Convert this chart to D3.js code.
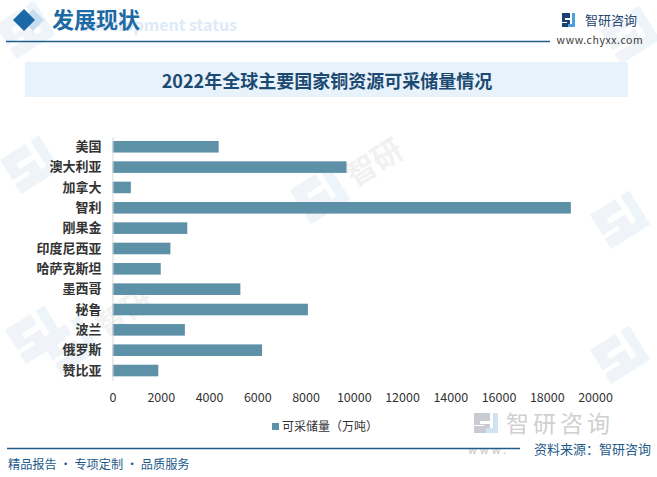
<!DOCTYPE html>
<html>
<head>
<meta charset="utf-8">
<script src="https://cdn.jsdelivr.net/npm/d3@7"></script>
<style>
  html, body { margin: 0; padding: 0; background: #fff; }
  svg { display: block; }
  text { font-family: "Noto Sans CJK SC", "Noto Sans", sans-serif; }
</style>
</head>
<body>
<svg id="chart" width="657" height="477"></svg>
<script>
// ---- data ----
const categories = ["美国", "澳大利亚", "加拿大", "智利", "刚果金", "印度尼西亚", "哈萨克斯坦", "墨西哥", "秘鲁", "波兰", "俄罗斯", "赞比亚"];
const reserves = [4400, 9700, 760, 19000, 3100, 2400, 2000, 5300, 8100, 3000, 6200, 1900];
const xTicks = [0, 2000, 4000, 6000, 8000, 10000, 12000, 14000, 16000, 18000, 20000];
const seriesName = "可采储量（万吨）";
const chartTitle = "2022年全球主要国家铜资源可采储量情况";
const headerTitle = "发展现状";
const headerGhost = "Development status";
const brandName = "智研咨询";
const brandUrl = "www.chyxx.com";
const footerLeft = "精品报告 · 专项定制 · 品质服务";
const footerRight = "资料来源：智研咨询";

const svg = d3.select("#chart");
const W = 657, H = 477;
svg.append("rect").attr("width", W).attr("height", H).attr("fill", "#fff");

// ---- faint watermarks (logo marks only, plus a couple of texts inside the plot) ----
const wm = svg.append("g").attr("class", "watermarks");
function mark(x, y, s) {
  const g = wm.append("g").attr("transform", `translate(${x},${y}) rotate(-32) scale(${s})`);
  g.append("path").attr("d", "M0,0 h30 v12 h-18 v6 h18 v22 h-30 v-12 h18 v-4 h-18 z").attr("fill", "#f0f3f7");
  g.append("path").attr("d", "M36,0 h10 v40 h-22 v-10 h12 z").attr("fill", "#edf5fb");
  return g;
}
mark(0, 160, 1);
mark(290, 190, 1);
mark(5, 330, 1);
mark(590, 215, 1);
mark(590, 350, 1);
mark(600, 30, 1);
mark(-5, 25, 1);
const wt1 = mark(290, 190, 1);
wt1.append("text").attr("x", 56).attr("y", 32).attr("font-size", 30).attr("fill", "#f1f1f1")
  .attr("font-weight", "bold").text("智研");
const wt2 = mark(40, 340, 1);
wt2.append("text").attr("x", 56).attr("y", 32).attr("font-size", 30).attr("fill", "#f2f2f2")
  .attr("font-weight", "bold").text("智研");

// ---- header ----
svg.append("path").attr("d", "M33,9 L44,20 L33,31 L22,20 Z").attr("fill", "#c7ddf0");
svg.append("path").attr("d", "M24,9 L35,20 L24,31 L13,20 Z").attr("fill", "#1a68a6");
svg.append("text").attr("x", 237).attr("y", 31).attr("text-anchor", "end")
  .attr("font-family", "Arial, 'Liberation Sans', sans-serif")
  .attr("font-weight", "bold").attr("font-size", 16).attr("fill", "#dcebf7").text(headerGhost);
svg.append("text").attr("x", 52).attr("y", 28).attr("font-size", 22).attr("font-weight", "bold")
  .attr("fill", "#1b69a5").text(headerTitle);
svg.append("line").attr("x1", 6).attr("x2", 550).attr("y1", 41.5).attr("y2", 41.5)
  .attr("stroke", "#1f5d8d").attr("stroke-width", 1.5);

// brand logo (top right)
const logo = svg.append("g").attr("transform", "translate(562,13)");
logo.append("path").attr("d", "M0,0 h8 v5 h-5 v2 h5 v7 h-8 v-4 h5 v-1 h-5 z").attr("fill", "#1c3f73");
logo.append("path").attr("d", "M10,0 h3 v14 h-7 v-3 h4 z").attr("fill", "#4aa0dc");
svg.append("text").attr("x", 585).attr("y", 25).attr("font-size", 13).attr("fill", "#24466f").text(brandName);
svg.append("text").attr("x", 600).attr("y", 44).attr("text-anchor", "middle")
  .attr("font-family", "'Liberation Serif', 'DejaVu Serif', serif").attr("font-size", 10.5)
  .attr("letter-spacing", 0.6).attr("fill", "#3a3a3a").text(brandUrl);

// ---- title box ----
svg.append("rect").attr("x", 25).attr("y", 62).attr("width", 603).attr("height", 35).attr("fill", "#e7f2fb");
svg.append("text").attr("x", 327).attr("y", 87.5).attr("text-anchor", "middle").attr("font-size", 18)
  .attr("font-weight", "bold").attr("fill", "#1d4a72").text(chartTitle);

// ---- scales ----
const x = d3.scaleLinear().domain([0, 20000]).range([112.5, 595]);
const y = d3.scaleBand().domain(categories).range([136.6, 380.7]).paddingInner(0.43).paddingOuter(0.215);

// bars
svg.append("g").selectAll("rect").data(categories).join("rect")
  .attr("x", x(0))
  .attr("y", d => y(d))
  .attr("width", (d, i) => x(reserves[i]) - x(0))
  .attr("height", y.bandwidth())
  .attr("fill", "#5d91a8");

// y axis
const yAxis = svg.append("g").attr("transform", `translate(${x(0)},0)`)
  .call(d3.axisLeft(y).tickSize(0).tickSizeOuter(0).tickPadding(11));
yAxis.select(".domain").attr("stroke", "#d9d9d9").attr("stroke-width", 1);
yAxis.selectAll("text").attr("font-size", 13).attr("font-weight", "bold").attr("fill", "#333")
  .attr("font-family", "'Noto Sans CJK SC', sans-serif");

// x axis
const xAxis = svg.append("g").attr("transform", "translate(0,381)")
  .call(d3.axisBottom(x).tickValues(xTicks).tickSize(0).tickPadding(12).tickFormat(d3.format("d")));
xAxis.select(".domain").remove();
xAxis.selectAll("text").attr("font-size", 12.5).attr("fill", "#333")
  .attr("font-family", "'Noto Sans CJK SC', sans-serif");

// legend
svg.append("rect").attr("x", 272).attr("y", 423).attr("width", 7).attr("height", 7).attr("fill", "#5d91a8");
svg.append("text").attr("x", 282).attr("y", 431).attr("font-size", 12).attr("fill", "#333").text(seriesName);

// ---- footer ----
const bl = svg.append("g").attr("transform", "translate(474,413)");
bl.append("path").attr("d", "M0,0 h16 v8 h-10 v3 h10 v9 h-16 v-7 h10 v-1 h-10 z").attr("fill", "#c8ccd2");
bl.append("path").attr("d", "M19,0 h5 v20 h-12 v-5 h7 z").attr("fill", "#cfe3f2");
svg.append("text").attr("x", 506).attr("y", 432).attr("font-size", 23).attr("fill", "#d0d0d0")
  .attr("letter-spacing", 4).text(brandName);
svg.append("text").attr("x", 468).attr("y", 454).attr("font-size", 11).attr("fill", "#c4c4c4")
  .attr("font-family", "Arial, sans-serif").attr("letter-spacing", 3).text("www.");
svg.append("line").attr("x1", 7).attr("x2", 520).attr("y1", 448.5).attr("y2", 448.5)
  .attr("stroke", "#1f5d8d").attr("stroke-width", 1.5);
svg.append("text").attr("x", 651).attr("y", 454).attr("text-anchor", "end").attr("font-size", 13)
  .attr("fill", "#1d5a8a").text(footerRight);
svg.append("text").attr("x", 8).attr("y", 469).attr("font-size", 12.2)
  .attr("fill", "#1d5a8a").text(footerLeft);
</script>
</body>
</html>
